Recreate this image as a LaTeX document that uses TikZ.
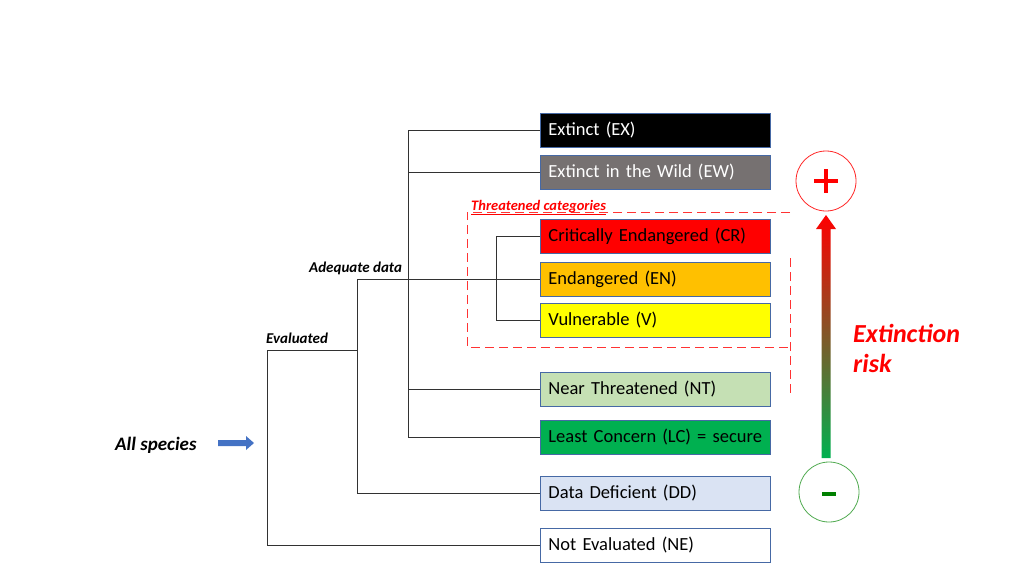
\documentclass[tikz,border=0pt]{standalone}
\usepackage{fontspec}
\setmainfont{Carlito}
\usetikzlibrary{arrows.meta}
\definecolor{boxborder}{RGB}{70,105,165}
\definecolor{exc}{RGB}{0,0,0}
\definecolor{ewc}{RGB}{118,113,113}
\definecolor{crc}{RGB}{255,0,0}
\definecolor{enc}{RGB}{255,192,0}
\definecolor{vuc}{RGB}{255,255,0}
\definecolor{ntc}{RGB}{197,224,180}
\definecolor{lcc}{RGB}{0,176,80}
\definecolor{ddc}{RGB}{218,227,243}
\definecolor{linec}{RGB}{50,50,50}
\definecolor{riskred}{RGB}{255,0,0}
\definecolor{riskgreen}{RGB}{0,176,80}
\definecolor{minusgreen}{RGB}{0,128,0}
\definecolor{circgreen}{RGB}{80,170,80}
\definecolor{arrowblue}{RGB}{68,114,196}
\tikzset{
  cat/.style={draw=boxborder, line width=0.9pt, minimum width=230pt, minimum height=34pt,
    text width=214pt, inner xsep=8pt, align=left, anchor=west,
    font=\fontsize{18.5}{22}\selectfont},
  tree/.style={draw=linec, line width=0.9pt},
  lab/.style={font=\fontsize{15}{18}\selectfont\bfseries\itshape, inner sep=0pt},
  thr/.style={draw=riskred!80, dashed, dash pattern=on 9pt off 5pt, line width=0.9pt},
}
\begin{document}
\begin{tikzpicture}[x=1pt,y=-1pt]
\useasboundingbox (0,0) rectangle (1024,576);
% category boxes
\node[cat, fill=exc, text=white] (ex) at (540,130) {Extinct (EX)};
\node[cat, fill=ewc, text=white] (ew) at (540,172) {Extinct in the Wild (EW)};
\node[cat, fill=crc] (cr) at (540,236) {Critically Endangered (CR)};
\node[cat, fill=enc] (en) at (540,279) {Endangered (EN)};
\node[cat, fill=vuc] (vu) at (540,320) {Vulnerable (V)};
\node[cat, fill=ntc] (nt) at (540,389) {Near Threatened (NT)};
\node[cat, fill=lcc] (lc) at (540,437) {Least Concern (LC) = secure};
\node[cat, fill=ddc] (dd) at (540,493) {Data Deficient (DD)};
\node[cat, fill=white] (ne) at (540,545) {Not Evaluated (NE)};
% junction coordinates
\coordinate (kA) at (408,0);
\coordinate (kT) at (496,0);
\coordinate (adq) at (357,279);
\coordinate (evl) at (267,350);
% tree connectors
\draw[tree] (ex.west) -| (kA |- lc.west) -- (lc.west);
\draw[tree] (ew.west) -- (ew.west -| kA);
\draw[tree] (nt.west) -- (nt.west -| kA);
\draw[tree] (cr.west) -| (kT |- vu.west) -- (vu.west);
\draw[tree] (en.west) -- (adq) |- (dd.west);
\draw[tree] (evl) -- (evl -| adq);
\draw[tree] (evl) |- (ne.west);
% labels
\node[lab, anchor=base west] (adql) at (309,272) {Adequate data};
\node[lab, anchor=base west] (evll) at (266,343) {Evaluated};
\node[font=\fontsize{19}{22}\selectfont\bfseries\itshape, anchor=base west, inner sep=0pt] (all) at (115,450) {All species};
\fill[arrowblue] (218,440) -- (246,440) -- (246,436) -- (254,443) -- (246,450) -- (246,446) -- (218,446) -- cycle;
% threatened dashed frame
\draw[thr] (790,212) -- (467,212) -- (467,347) -- (790,347);
\draw[thr] (790,258) -- (790,393);
\node[font=\fontsize{14.5}{17}\selectfont\bfseries\itshape, text=riskred, anchor=base west, inner sep=0pt] (thl) at (471,210) {\underline{Threatened categories}};
% risk scale
\node[circle, draw=riskred!85, line width=0.8pt, minimum size=60pt, inner sep=0pt] (plus) at (826,181) {};
\draw[riskred, line width=4.5pt] (plus.center) ++(-12,0) -- ++(24,0);
\draw[riskred, line width=4.5pt] (plus.center) ++(0,-12) -- ++(0,24);
\node[circle, draw=circgreen, line width=0.8pt, minimum size=60pt, inner sep=0pt] (minus) at (829,492) {};
\draw[minusgreen, line width=4.5pt] (minus.center) ++(-7,2) -- ++(14,0);
\shade[bottom color=riskgreen, top color=riskred]
  (821.5,458) -- (821.5,229) -- (816,229) -- (826,215) -- (836,229) -- (830.5,229) -- (830.5,458) -- cycle;
\node[font=\fontsize{26}{30}\selectfont\bfseries\itshape, text=riskred, anchor=base west, inner sep=0pt] (risk1) at (853,342) {Extinction};
\node[font=\fontsize{26}{30}\selectfont\bfseries\itshape, text=riskred, anchor=base west, inner sep=0pt] (risk2) at (853,372) {risk};
\end{tikzpicture}
\end{document}
